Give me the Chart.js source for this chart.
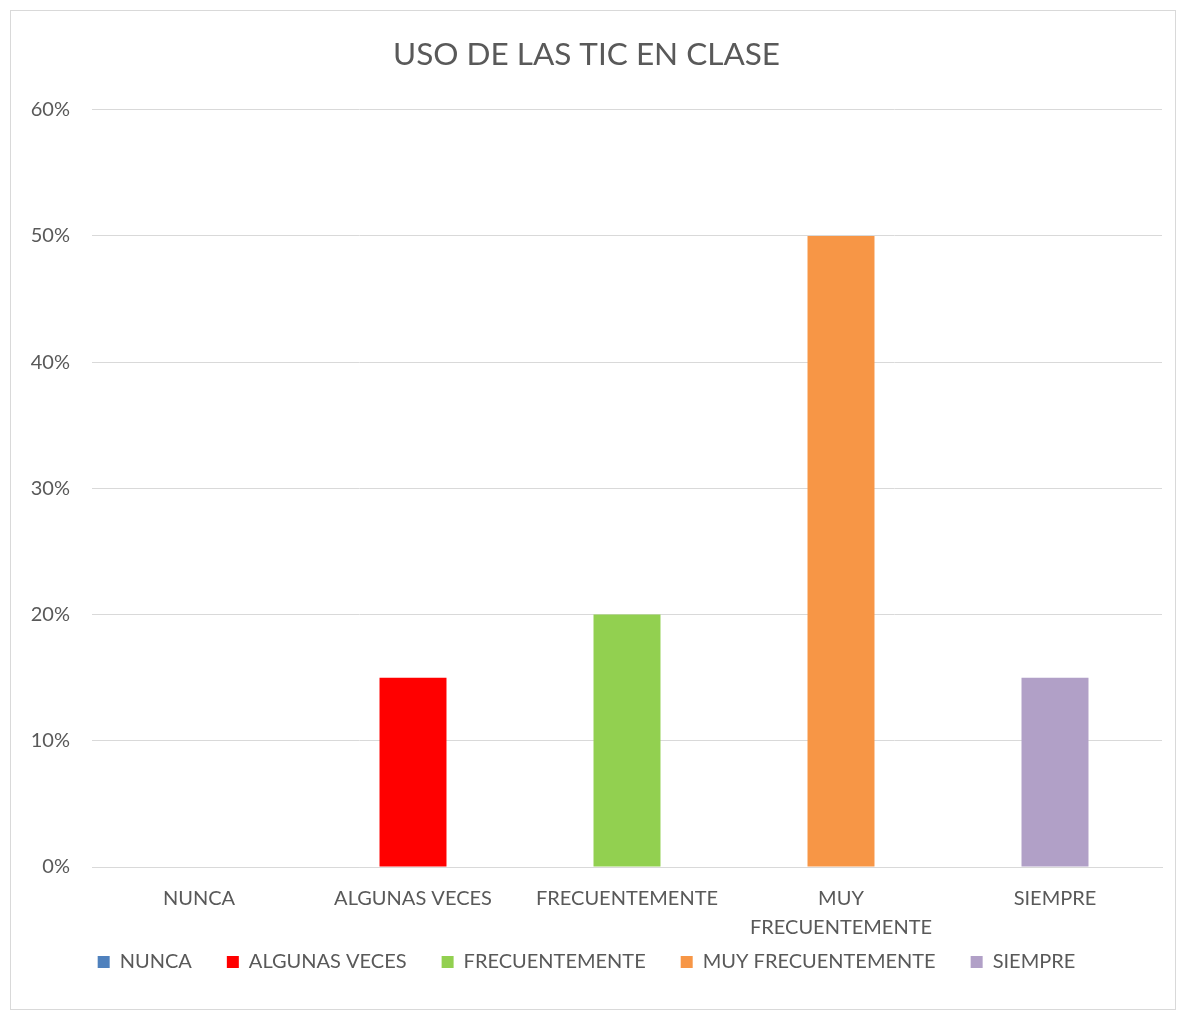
<!DOCTYPE html>
<html lang="es">
<head>
    <meta charset="UTF-8">
    <title>Uso de las TIC en clase</title>
    <script src="https://cdn.jsdelivr.net/npm/chart.js"></script>
    <style>
        body { margin: 0; background: #fff; }
        #marco {
            position: absolute;
            left: 10px;
            top: 10px;
            width: 1164px;
            height: 998px;
            border: 1px solid #d9d9d9;
        }
    </style>
</head>
<body>
    <div id="marco">
        <canvas id="grafico"></canvas>
    </div>

    <script>
        // datos del grafico
        const categorias = ['NUNCA', 'ALGUNAS VECES', 'FRECUENTEMENTE', 'MUY FRECUENTEMENTE', 'SIEMPRE'];
        const etiquetasEje = ['NUNCA', 'ALGUNAS VECES', 'FRECUENTEMENTE', ['MUY', 'FRECUENTEMENTE'], 'SIEMPRE'];
        const porcentajes = [0, 15, 20, 50, 15];
        const colores = ['#4F81BD', '#FF0000', '#92D050', '#F79646', '#B1A0C7'];
        const ticksY = [0, 10, 20, 30, 40, 50, 60];

        const gris = '#595959';
        const fuente = 'Lato, "Open Sans", sans-serif';
        // the legend padding is used both vertically and horizontally,
        // so the extra gap between items comes from an em + en space after the text
        const hueco = '\u2003\u2002';

        const ctx = document.getElementById('grafico').getContext('2d');
        const chart = new Chart(ctx, {
            type: 'bar',
            data: {
                labels: etiquetasEje,
                datasets: [{
                    label: 'USO DE LAS TIC',
                    data: porcentajes,
                    backgroundColor: colores,
                    borderWidth: 0,
                    categoryPercentage: 1,
                    barPercentage: 0.313
                }]
            },
            options: {
                responsive: true,
                maintainAspectRatio: false,
                animation: false,
                layout: {
                    padding: { left: 0, right: 13, top: 0, bottom: 27 }
                },
                plugins: {
                    title: {
                        display: true,
                        text: 'USO DE LAS TIC EN CLASE',
                        color: gris,
                        font: { family: fuente, size: 31.5, weight: 'normal', lineHeight: 1.2 },
                        padding: { top: 25, bottom: 36 }
                    },
                    legend: {
                        position: 'bottom',
                        labels: {
                            color: gris,
                            font: { family: fuente, size: 20 },
                            boxWidth: 12,
                            boxHeight: 12,
                            padding: 10,
                            generateLabels: () => categorias.map((c, i) => ({
                                text: i < categorias.length - 1 ? c + hueco : c,
                                fillStyle: colores[i],
                                strokeStyle: colores[i],
                                lineWidth: 0,
                                fontColor: gris,
                                hidden: false,
                                index: i
                            }))
                        },
                        onClick: () => {}
                    },
                    tooltip: { enabled: false }
                },
                scales: {
                    x: {
                        grid: { display: false, drawTicks: false },
                        border: { color: '#d9d9d9', width: 1 },
                        ticks: {
                            color: gris,
                            padding: 17,
                            maxRotation: 0,
                            autoSkip: false,
                            font: { family: fuente, size: 20, lineHeight: 1.45 }
                        },
                        afterFit: (scale) => { scale.height = 75; }
                    },
                    y: {
                        min: 0,
                        max: 60,
                        grid: { color: '#d9d9d9', lineWidth: 1, drawTicks: false },
                        border: { display: false },
                        afterBuildTicks: (scale) => {
                            scale.ticks = ticksY.map(v => ({ value: v }));
                        },
                        ticks: {
                            color: gris,
                            padding: 22,
                            font: { family: fuente, size: 20 },
                            callback: (v) => v + '%'
                        },
                        afterFit: (scale) => { scale.width = 81; }
                    }
                }
            }
        });
    </script>
</body>
</html>
